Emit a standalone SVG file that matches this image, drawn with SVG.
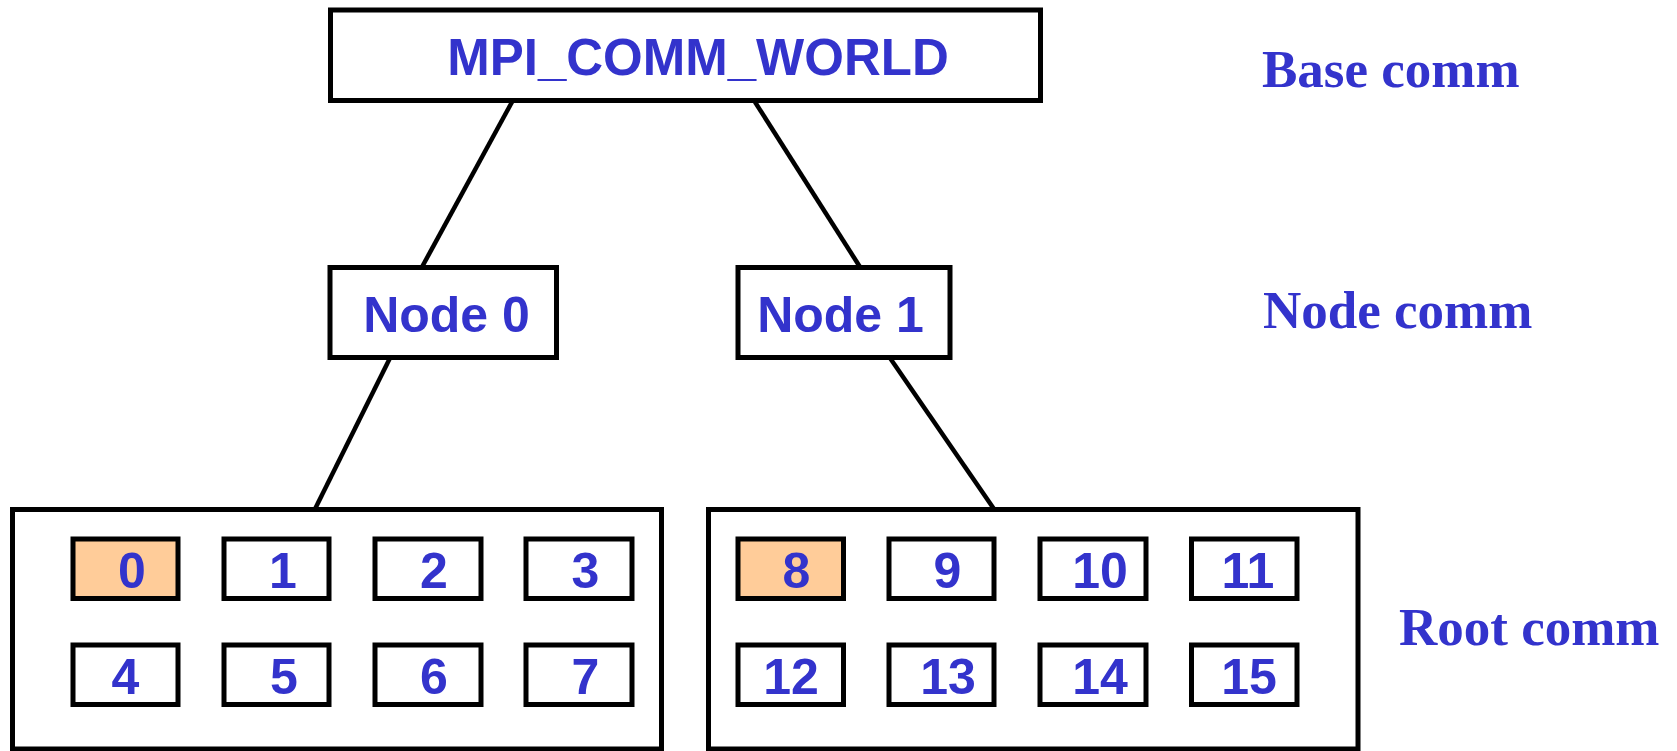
<svg xmlns="http://www.w3.org/2000/svg" width="1677" height="751" viewBox="0 0 1677 751">
  <style>
    .box { fill: #ffffff; stroke: #000000; stroke-width: 5; }
    .root { fill: #ffcc99; stroke: #000000; stroke-width: 5; }
    .edge { stroke: #000000; stroke-width: 4.5; fill: none; }
    .sans { font-family: "Liberation Sans", Arial, sans-serif; font-weight: bold; fill: #3333cc; }
    .lbl { font-family: "Liberation Serif", "Times New Roman", serif; font-weight: bold; fill: #3333cc; font-size: 53px; }
    .big { font-size: 50px; text-anchor: middle; }
    .num { font-size: 50px; text-anchor: middle; }
  </style>
  <rect width="1677" height="751" fill="#ffffff"/>

  <g id="connectors">
    <line class="edge" x1="512" y1="102" x2="422" y2="267"/>
    <line class="edge" x1="755" y1="102" x2="860" y2="267"/>
    <line class="edge" x1="390" y1="358" x2="315" y2="509"/>
    <line class="edge" x1="890" y1="358" x2="994" y2="509"/>
  </g>

  <g id="world">
    <rect class="box" x="330.5" y="10" width="710" height="90.5"/>
    <text class="sans big" x="698" y="74.5" style="font-size:51px">MPI_COMM_WORLD</text>
  </g>

  <g id="node0">
    <rect class="box" x="330" y="267.5" width="226.5" height="90"/>
    <text class="sans big" x="446.5" y="331.5">Node 0</text>
  </g>
  <g id="node1">
    <rect class="box" x="738" y="267.5" width="212" height="90"/>
    <text class="sans big" x="840.5" y="331.5">Node 1</text>
  </g>

  <g id="group0">
    <rect class="box" x="12.5" y="509.5" width="649" height="239.5"/>
  </g>
  <g id="group1">
    <rect class="box" x="708.5" y="509.5" width="649.5" height="239.5"/>
  </g>

  <g id="rank0"><rect class="root" x="73" y="539" width="105" height="59.5"/><text class="sans num" x="132" y="588">0</text></g>
  <g id="rank1"><rect class="box" x="224" y="539" width="105" height="59.5"/><text class="sans num" x="283" y="588">1</text></g>
  <g id="rank2"><rect class="box" x="375" y="539" width="106" height="59.5"/><text class="sans num" x="434" y="588">2</text></g>
  <g id="rank3"><rect class="box" x="526" y="539" width="106" height="59.5"/><text class="sans num" x="585.5" y="588">3</text></g>
  <g id="rank4"><rect class="box" x="73" y="645" width="105" height="59.5"/><text class="sans num" x="125.5" y="694">4</text></g>
  <g id="rank5"><rect class="box" x="224" y="645" width="105" height="59.5"/><text class="sans num" x="284" y="694">5</text></g>
  <g id="rank6"><rect class="box" x="375" y="645" width="106" height="59.5"/><text class="sans num" x="434" y="694">6</text></g>
  <g id="rank7"><rect class="box" x="526" y="645" width="106" height="59.5"/><text class="sans num" x="585.5" y="694">7</text></g>

  <g id="rank8"><rect class="root" x="738" y="539" width="105.5" height="59.5"/><text class="sans num" x="796.5" y="588">8</text></g>
  <g id="rank9"><rect class="box" x="889" y="539" width="105" height="59.5"/><text class="sans num" x="947.5" y="588">9</text></g>
  <g id="rank10"><rect class="box" x="1040" y="539" width="106" height="59.5"/><text class="sans num" x="1100" y="588">10</text></g>
  <g id="rank11"><rect class="box" x="1191.5" y="539" width="105.5" height="59.5"/><text class="sans num" x="1248" y="588">11</text></g>
  <g id="rank12"><rect class="box" x="738" y="645" width="105.5" height="59.5"/><text class="sans num" x="791" y="694">12</text></g>
  <g id="rank13"><rect class="box" x="889" y="645" width="105" height="59.5"/><text class="sans num" x="948" y="694">13</text></g>
  <g id="rank14"><rect class="box" x="1040" y="645" width="106" height="59.5"/><text class="sans num" x="1100" y="694">14</text></g>
  <g id="rank15"><rect class="box" x="1191.5" y="645" width="105.5" height="59.5"/><text class="sans num" x="1249" y="694">15</text></g>

  <g id="labels">
    <text class="lbl" x="1262" y="86.5">Base comm</text>
    <text class="lbl" x="1263" y="327.5">Node comm</text>
    <text class="lbl" x="1399" y="645">Root comm</text>
  </g>
</svg>
